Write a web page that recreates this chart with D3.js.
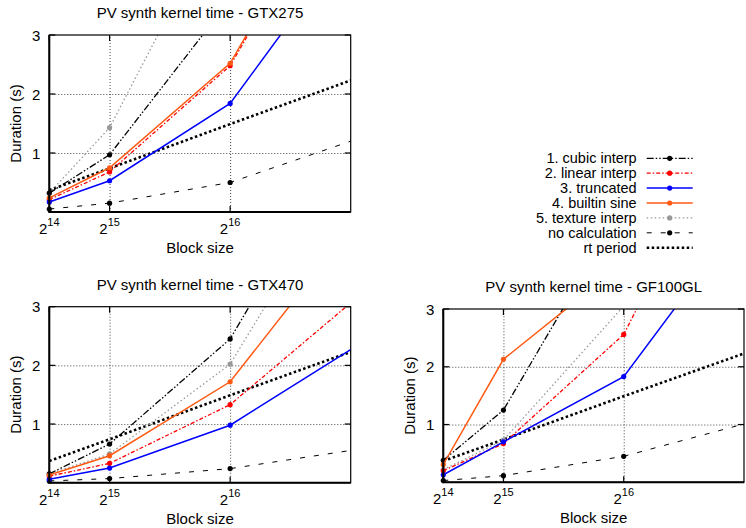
<!DOCTYPE html>
<html>
<head>
<meta charset="utf-8">
<script src="https://cdn.jsdelivr.net/npm/d3@7"></script>
<style>
body { margin: 0; background: #fff; }
svg text { font-family: "Liberation Sans", Arial, Helvetica, sans-serif; fill: #000; }
</style>
</head>
<body>
<svg id="chart" width="746" height="528"></svg>
<script>
// block sizes (x values) and y ticks
var blockSizes = [16384, 32768, 65536, 131072];
var xTicks = [16384, 32768, 65536];
var xTickExp = ["14", "15", "16"];
var yTicks = [1, 2, 3];

var seriesNames = ["1. cubic interp", "2. linear interp", "3. truncated", "4. builtin sine",
                   "5. texture interp", "no calculation", "rt period"];

// durations in seconds, one row per series (same order as seriesNames)
var rtPeriod = [0.37, 0.74, 1.49, 2.97];

var gtx275 = [
    [0.32, 0.97, 3.6, null],
    [0.21, 0.68, 2.48, 9.5],
    [0.17, 0.53, 1.84, 7.4],
    [0.24, 0.75, 2.52, 9.6],
    [0.32, 1.43, 5.35, null],
    [0.05, 0.15, 0.50, 1.90],
    rtPeriod
];
var gtx470 = [
    [0.15, 0.66, 2.45, 9.45],
    [0.11, 0.33, 1.33, 4.8],
    [0.06, 0.25, 0.98, 3.56],
    [0.13, 0.46, 1.72, 6.96],
    [0.15, 0.49, 2.02, 8.8],
    [0.03, 0.07, 0.24, 0.86],
    rtPeriod
];
var gf100gl = [
    [0.38, 1.25, 4.8, null],
    [0.20, 0.67, 2.56, 10.7],
    [0.13, 0.70, 1.83, 7.4],
    [0.31, 2.13, 3.8, null],
    [0.22, 0.73, 3.05, null],
    [0.03, 0.115, 0.45, 1.57],
    rtPeriod
];

var colors = ["#000000", "#ff0000", "#0000ff", "#ff5a14", "#999999", "#000000", "#000000"];
var dashes = ["7,2,1.5,2,1.5,2", "4,2,1.5,2", null, null, "1.5,2.5", "5,9", "2.5,2.5"];
var widths = [1.3, 1.3, 1.5, 1.5, 1.3, 1, 2.6];
var hasMarker = [true, true, true, true, true, true, false];

var svg = d3.select("#chart");

var panels = [
    {title: "PV synth kernel time - GTX275", data: gtx275, x: 49.3, y: 35, w: 301.4, h: 177},
    {title: "PV synth kernel time - GTX470", data: gtx470, x: 49.3, y: 306.7, w: 301.4, h: 176},
    {title: "PV synth kernel time - GF100GL", data: gf100gl, x: 443.3, y: 309, w: 300.7, h: 173.3}
];

panels.forEach(function(p, pi) {
    var x = d3.scaleLinear().domain([16384, 98304]).range([p.x, p.x + p.w]);
    var y = d3.scaleLinear().domain([0, 3]).range([p.y + p.h, p.y]);
    var g = svg.append("g");

    g.append("clipPath").attr("id", "clip" + pi)
        .append("rect").attr("x", p.x).attr("y", p.y).attr("width", p.w).attr("height", p.h);

    // grid
    var gx = g.append("g")
        .attr("transform", "translate(0," + (p.y + p.h) + ")")
        .call(d3.axisBottom(x).tickValues([32768, 65536]).tickSize(-p.h).tickFormat(""));
    var gy = g.append("g")
        .attr("transform", "translate(" + p.x + ",0)")
        .call(d3.axisLeft(y).tickValues([1, 2]).tickSize(-p.w).tickFormat(""));
    [gx, gy].forEach(function(a) {
        a.select(".domain").remove();
        a.selectAll("line").attr("stroke", "#333").attr("stroke-dasharray", "1,2").attr("stroke-width", 0.9);
    });

    // series lines
    var line = d3.line()
        .defined(function(d) { return d[1] != null; })
        .x(function(d) { return x(d[0]); })
        .y(function(d) { return y(d[1]); });

    var order = [6, 5, 4, 0, 1, 2, 3];
    order.forEach(function(si) {
        var pts = blockSizes.map(function(b, i) { return [b, p.data[si][i]]; });
        g.append("path")
            .attr("d", line(pts))
            .attr("clip-path", "url(#clip" + pi + ")")
            .attr("fill", "none")
            .attr("stroke", colors[si])
            .attr("stroke-width", widths[si])
            .attr("stroke-dasharray", dashes[si]);
        if (hasMarker[si]) {
            g.selectAll(null)
                .data(pts.filter(function(d) { return d[1] != null && d[0] <= 98304 && d[1] <= 3; }))
                .enter().append("circle")
                .attr("cx", function(d) { return x(d[0]); })
                .attr("cy", function(d) { return y(d[1]); })
                .attr("r", 2.6)
                .attr("fill", colors[si]);
        }
    });

    // frame
    g.append("rect").attr("x", p.x).attr("y", p.y).attr("width", p.w).attr("height", p.h)
        .attr("fill", "none").attr("stroke", "#000").attr("stroke-width", 1.2);
    g.append("path")
        .attr("d", "M" + p.x + "," + p.y + "V" + (p.y + p.h) + "H" + (p.x + p.w))
        .attr("fill", "none").attr("stroke", "#000").attr("stroke-width", 2);

    // ticks (inward, mirrored)
    xTicks.forEach(function(t) {
        g.append("line").attr("x1", x(t)).attr("x2", x(t)).attr("y1", p.y + p.h).attr("y2", p.y + p.h - 6)
            .attr("stroke", "#000").attr("stroke-width", 1.2);
        g.append("line").attr("x1", x(t)).attr("x2", x(t)).attr("y1", p.y).attr("y2", p.y + 6)
            .attr("stroke", "#000").attr("stroke-width", 1.2);
    });
    yTicks.forEach(function(t) {
        g.append("line").attr("x1", p.x).attr("x2", p.x + 6).attr("y1", y(t)).attr("y2", y(t))
            .attr("stroke", "#000").attr("stroke-width", 1.2);
        g.append("line").attr("x1", p.x + p.w).attr("x2", p.x + p.w - 6).attr("y1", y(t)).attr("y2", y(t))
            .attr("stroke", "#000").attr("stroke-width", 1.2);
    });

    // tick labels
    yTicks.forEach(function(t) {
        g.append("text").attr("x", p.x - 9).attr("y", y(t) + 5.5)
            .attr("text-anchor", "end").style("font-size", "15px").text(t);
    });
    xTicks.forEach(function(t, i) {
        var tx = g.append("text").attr("x", x(t)).attr("y", p.y + p.h + 22)
            .attr("text-anchor", "middle").style("font-size", "15px");
        tx.append("tspan").text("2");
        tx.append("tspan").attr("dy", -8).style("font-size", "11px").text(xTickExp[i]);
    });

    // axis titles
    g.append("text").attr("x", p.x + p.w / 2).attr("y", p.y + p.h + 41)
        .attr("text-anchor", "middle").style("font-size", "15px").text("Block size");
    g.append("text")
        .attr("transform", "translate(" + (p.x - 28) + "," + (p.y + p.h / 2) + ") rotate(-90)")
        .attr("text-anchor", "middle").style("font-size", "15px").text("Duration (s)");
    g.append("text").attr("x", p.x + p.w / 2).attr("y", p.y - 17)
        .attr("text-anchor", "middle").style("font-size", "15px").text(p.title);
});

// legend
var legend = svg.append("g");
seriesNames.forEach(function(name, i) {
    var ly = 158.3 + i * 14.9;
    legend.append("text").attr("x", 636.7).attr("y", ly + 5)
        .attr("text-anchor", "end").style("font-size", "14.5px").text(name);
    legend.append("line").attr("x1", 646.7).attr("x2", 692.7).attr("y1", ly).attr("y2", ly)
        .attr("stroke", colors[i]).attr("stroke-width", widths[i]).attr("stroke-dasharray", dashes[i]);
    if (hasMarker[i]) {
        legend.append("circle").attr("cx", 669.7).attr("cy", ly).attr("r", 2.6).attr("fill", colors[i]);
    }
});
</script>
</body>
</html>
